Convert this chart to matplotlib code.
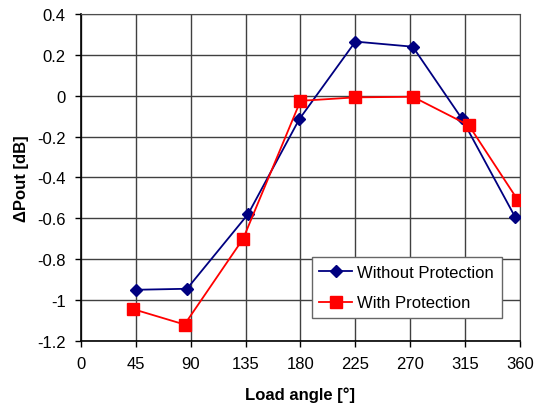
import matplotlib
matplotlib.use("Agg")
import matplotlib.pyplot as plt

plt.rcParams['font.family'] = ['Liberation Sans', 'DejaVu Sans']

# load angle (deg) and output power change (dB)
angle_without = [45, 87, 137, 179, 225, 272, 312, 356]
dpout_without = [-0.95, -0.945, -0.58, -0.115, 0.265, 0.24, -0.11, -0.595]

angle_with = [43, 85, 133, 180, 225, 272, 318, 358]
dpout_with = [-1.045, -1.12, -0.70, -0.025, -0.008, -0.005, -0.145, -0.51]

xticks = [0, 45, 90, 135, 180, 225, 270, 315, 360]
yticks = [0.4, 0.2, 0, -0.2, -0.4, -0.6, -0.8, -1, -1.2]
ytick_labels = ['0.4', '0.2', '0', '-0.2', '-0.4', '-0.6', '-0.8', '-1', '-1.2']

fig = plt.figure(figsize=(5.39, 4.06), dpi=100)
ax = fig.add_axes([0.150, 0.158, 0.815, 0.805])

ax.plot(angle_without, dpout_without, color='#000080', marker='D',
        markersize=6.5, linewidth=1.3, label='Without Protection', zorder=3)
ax.plot(angle_with, dpout_with, color='#ff0000', marker='s',
        markersize=8.5, linewidth=1.3, label='With Protection', zorder=3)

ax.set_xlim(0, 360)
ax.set_ylim(-1.2, 0.4)
ax.set_xticks(xticks)
ax.set_yticks(yticks)
ax.set_yticklabels(ytick_labels)
ax.tick_params(labelsize=12, direction='out', length=4, width=1, pad=7)

ax.grid(True, color='0.25', linewidth=1)
ax.set_axisbelow(True)
for side in ['top', 'right']:
    ax.spines[side].set_color('0.3')
for side in ['left', 'bottom']:
    ax.spines[side].set_color('black')
    ax.spines[side].set_linewidth(1.2)

ax.set_xlabel('Load angle [°]', fontsize=12, fontweight='bold', labelpad=11)
ax.set_ylabel('ΔPout [dB]', fontsize=12, fontweight='bold', labelpad=6)

leg = ax.legend(loc='lower right', bbox_to_anchor=(0.958, 0.07), fontsize=12,
                fancybox=False, framealpha=1, edgecolor='0.4',
                handlelength=2.0, handletextpad=0.3, borderpad=0.45,
                labelspacing=0.95, borderaxespad=0)
leg.get_frame().set_linewidth(1)

fig.savefig('out.png', dpi=100)
